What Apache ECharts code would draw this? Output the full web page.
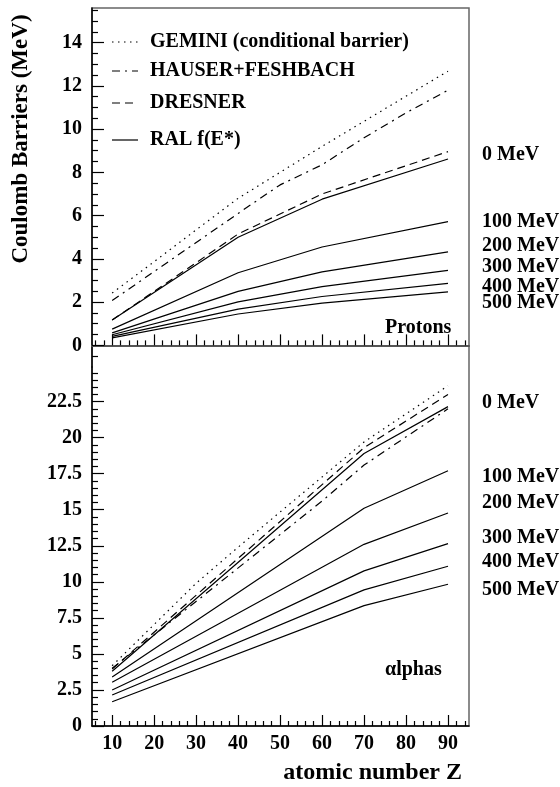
<!DOCTYPE html>
<html><head><meta charset="utf-8">
<script src="https://cdn.jsdelivr.net/npm/echarts@6/dist/echarts.min.js"></script>
<style>html,body{margin:0;padding:0;background:#fff}#c{width:560px;height:787px}</style>
</head><body><div id="c"></div>
<script>
// ---------- data ----------
const xTicks = [10, 20, 30, 40, 50, 60, 70, 80, 90];
const protonTicks = [0, 2, 4, 6, 8, 10, 12, 14];
const alphaTicks = [0, 2.5, 5, 7.5, 10, 12.5, 15, 17.5, 20, 22.5];
const energyLabels = ['0 MeV', '100 MeV', '200 MeV', '300 MeV', '400 MeV', '500 MeV'];
const legendNames = ['GEMINI (conditional barrier)', 'HAUSER+FESHBACH', 'DRESNER', 'RAL f(E*)'];

// Protons
const pZGem = [10, 20, 30, 40, 60, 90];
const pGem  = [2.42, 3.87, 5.34, 6.8, 9.2, 12.68];
const pZHf  = [10, 40, 50, 60, 70, 80, 90];
const pHf   = [2.07, 6.1, 7.42, 8.35, 9.6, 10.75, 11.8];
const pZDr  = [10, 40, 60, 90];
const pDr   = [1.17, 5.15, 7.0, 8.96];
const pZRal = [10, 40, 60, 90];
const pRal0   = [1.17, 5.0, 6.76, 8.62];
const pRal100 = [0.75, 3.36, 4.55, 5.72];
const pRal200 = [0.58, 2.5, 3.4, 4.32];
const pRal300 = [0.49, 2.01, 2.72, 3.47];
const pRal400 = [0.42, 1.68, 2.26, 2.87];
const pRal500 = [0.35, 1.45, 1.95, 2.47];

// Alphas
const aZGem = [10, 30, 40, 50, 70, 90];
const aGem  = [4.18, 9.9, 12.4, 14.84, 19.7, 23.6];
const aZHf  = [10, 60, 70, 90];
const aHf   = [4.0, 15.6, 18.1, 22.0];
const aZDr  = [10, 70, 90];
const aDr   = [3.95, 19.3, 23.0];
const aZRal = [10, 70, 90];
const aRal0   = [3.8, 18.9, 22.15];
const aRal100 = [3.4, 15.1, 17.7];
const aRal200 = [3.03, 12.6, 14.77];
const aRal300 = [2.5, 10.76, 12.65];
const aRal400 = [2.15, 9.44, 11.08];
const aRal500 = [1.68, 8.35, 9.83];

// ---------- styling ----------
const FONT = "'Liberation Serif', 'Times New Roman', serif";
const styles = {
  gem: [1.5, 4.5],
  hf: [8, 5, 2, 5],
  dr: [8, 5],
  ral: 'solid'
};
function minorFrom(lo, hi, step, majors) {
  const out = [];
  for (let v = lo; v <= hi + 1e-9; v += step) {
    const r = Math.round(v * 100) / 100;
    if (!majors.some(m => Math.abs(m - r) < 1e-6)) out.push(r);
  }
  return out;
}
const xMinor = minorFrom(6, 94, 2, xTicks);
const pMinor = minorFrom(-0.5, 15.5, 0.5, protonTicks);
const aMinor = minorFrom(0.5, 24.5, 0.5, alphaTicks);

function mk(name, zs, vs, type, gi) {
  return {
    name, type: 'line', xAxisIndex: gi, yAxisIndex: gi,
    data: zs.map((z, i) => [z, vs[i]]),
    symbol: 'none', silent: true, animation: false,
    lineStyle: { color: '#000', width: 1.2, type },
    itemStyle: { color: '#000' }
  };
}
const series = [
  mk(legendNames[0], pZGem, pGem, styles.gem, 0),
  mk(legendNames[1], pZHf, pHf, styles.hf, 0),
  mk(legendNames[2], pZDr, pDr, styles.dr, 0),
  ...[pRal0, pRal100, pRal200, pRal300, pRal400, pRal500].map(v => mk(legendNames[3], pZRal, v, styles.ral, 0)),
  mk(legendNames[0], aZGem, aGem, styles.gem, 1),
  mk(legendNames[1], aZHf, aHf, styles.hf, 1),
  mk(legendNames[2], aZDr, aDr, styles.dr, 1),
  ...[aRal0, aRal100, aRal200, aRal300, aRal400, aRal500].map(v => mk(legendNames[3], aZRal, v, styles.ral, 1))
];

const grids = [
  { left: 92, top: 8, width: 377, height: 359 },
  { left: 92, top: 367, width: 377, height: 359 }
];
const labelStyle = { fontFamily: FONT, fontWeight: 'bold', fontSize: 20, color: '#000' };

function xAx(gi, major, showLabels) {
  return {
    type: 'value', gridIndex: gi, min: 5.2, max: 95, position: 'bottom',
    axisLine: { show: major, lineStyle: { color: gi === 0 ? '#555' : '#000', width: gi === 0 ? 2 : 1.5 } },
    axisTick: { show: true, inside: true, length: major ? 11 : 5, customValues: major ? xTicks : xMinor,
                lineStyle: { color: '#000', width: 1.2 } },
    axisLabel: { show: major && showLabels, customValues: xTicks, margin: 8, ...labelStyle },
    splitLine: { show: false }
  };
}
function yAx(gi, major, min, max, ticks, minor) {
  return {
    type: 'value', gridIndex: gi, min, max, position: 'left',
    axisLine: { show: major, lineStyle: { color: '#000', width: 1.5 } },
    axisTick: { show: true, inside: true, length: major ? 12 : 6, customValues: major ? ticks : minor,
                lineStyle: { color: '#000', width: 1.2 } },
    axisLabel: { show: major, customValues: ticks, margin: 10, ...labelStyle },
    splitLine: { show: false }
  };
}

// legend drawn as graphic rows (line sample + text)
const legendY = [42, 71, 103, 140];
const legendDash = [styles.gem, styles.hf, styles.dr, null];
const graphics = [];
legendNames.forEach((n, i) => {
  graphics.push({ type: 'line', shape: { x1: 112, y1: legendY[i], x2: 138, y2: legendY[i] },
    style: { stroke: '#000', lineWidth: 1.2, lineDash: legendDash[i] } });
  graphics.push({ type: 'text', x: 150, y: legendY[i], style: { text: n, font: `bold 20px ${FONT}`, fill: '#000', textVerticalAlign: 'middle' } });
});

const pLabelY = [155, 222, 246, 267, 287, 303];
const aLabelY = [403, 477, 503, 538, 562, 590];
energyLabels.forEach((t, i) => {
  graphics.push({ type: 'text', x: 482, y: pLabelY[i], style: { text: t, font: `bold 20px ${FONT}`, fill: '#000', textVerticalAlign: 'middle' } });
  graphics.push({ type: 'text', x: 482, y: aLabelY[i], style: { text: t, font: `bold 20px ${FONT}`, fill: '#000', textVerticalAlign: 'middle' } });
});
graphics.push({ type: 'text', x: 385, y: 328, style: { text: 'Protons', font: `bold 20px ${FONT}`, fill: '#000', textVerticalAlign: 'middle' } });
graphics.push({ type: 'text', x: 385, y: 670, style: { text: 'αlphas', font: `bold 20px ${FONT}`, fill: '#000', textVerticalAlign: 'middle' } });
graphics.push({ type: 'text', x: 21, y: 139, rotation: Math.PI / 2, style: { text: 'Coulomb Barriers (MeV)', font: `bold 23px ${FONT}`, fill: '#000', textAlign: 'center', textVerticalAlign: 'middle' } });
graphics.push({ type: 'text', x: 462, y: 773, style: { text: 'atomic number Z', font: `bold 24px ${FONT}`, fill: '#000', textAlign: 'right', textVerticalAlign: 'middle' } });
graphics.push({ type: 'rect', shape: { x: 92, y: 8, width: 377, height: 718 }, style: { fill: 'none', stroke: '#666', lineWidth: 1.5 }, z: -1 });

const chart = echarts.init(document.getElementById('c'), null, { renderer: 'canvas' });
chart.setOption({
  animation: false,
  backgroundColor: '#fff',
  grid: grids,
  xAxis: [xAx(0, true, false), xAx(1, true, true), xAx(0, false, false), xAx(1, false, false)],
  yAxis: [yAx(0, true, -1, 15.6, protonTicks, pMinor), yAx(1, true, 0, 24.9, alphaTicks, aMinor),
          yAx(0, false, -1, 15.6, protonTicks, pMinor), yAx(1, false, 0, 24.9, alphaTicks, aMinor)],
  series,
  graphic: graphics
});
</script></body></html>
